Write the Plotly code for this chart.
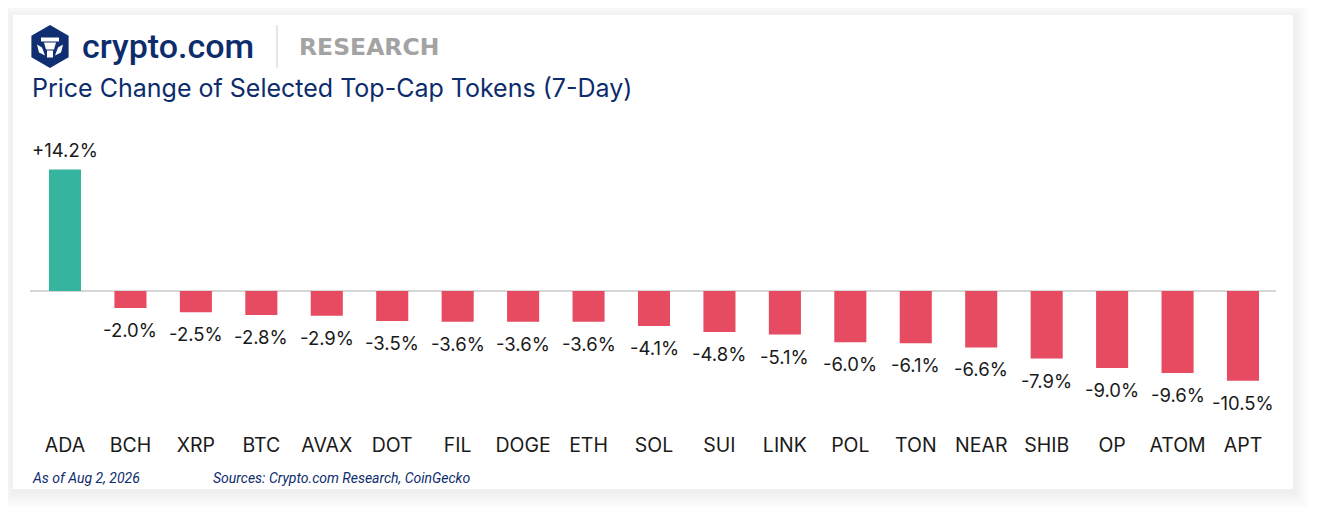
import math
import plotly.graph_objects as go

tokens = ["ADA", "BCH", "XRP", "BTC", "AVAX", "DOT", "FIL", "DOGE", "ETH", "SOL",
          "SUI", "LINK", "POL", "TON", "NEAR", "SHIB", "OP", "ATOM", "APT"]
changes = [14.2, -2.0, -2.5, -2.8, -2.9, -3.5, -3.6, -3.6, -3.6, -4.1,
           -4.8, -5.1, -6.0, -6.1, -6.6, -7.9, -9.0, -9.6, -10.5]

title_text = "Price Change of Selected Top-Cap Tokens (7-Day)"
date_note = "As of Aug 2, 2026"
source_note = "Sources: Crypto.com Research, CoinGecko"

GREEN = "#35b49f"
RED = "#e64b62"
NAVY = "#0d2c6c"

W, H = 1318, 514
OFF = 8  # page body margin offset: figure is drawn at (8, 8) in the window
ML = 30 - OFF
MR = W - (1276 - OFF)
MT = 140 - OFF
MB = H - (431 - OFF)
PW, PH = W - ML - MR, H - MT - MB


def px(x):
    return (x - OFF - ML) / PW


def py(y):
    return (H - MB - (y - OFF)) / PH


colors = [GREEN if v >= 0 else RED for v in changes]

fig = go.Figure()
fig.add_trace(go.Bar(x=tokens, y=changes, marker=dict(color=colors, line=dict(width=0)),
                     width=0.49, hoverinfo="skip"))

annotations = []
for t, v in zip(tokens, changes):
    label = f"+{v:.1f}%" if v > 0 else f"{v:.1f}%"
    annotations.append(dict(x=t, y=v, xref="x", yref="y", text=label, showarrow=False,
                            yanchor="bottom" if v > 0 else "top",
                            yshift=7 if v > 0 else -9,
                            font=dict(family="Inter", size=18.5, color="#1a1a1a")))

annotations += [
    dict(x=px(80), y=py(46), xref="paper", yref="paper", text="crypto.com", showarrow=False,
         xanchor="left", yanchor="middle",
         font=dict(family="Roboto", size=34, color=NAVY, weight=500)),
    dict(x=px(297), y=py(47), xref="paper", yref="paper", text="RESEARCH", showarrow=False,
         xanchor="left", yanchor="middle",
         font=dict(family="DejaVu Sans", size=23.5, color="#a3a3a3", weight="bold")),
    dict(x=px(30), y=py(88), xref="paper", yref="paper", text=title_text, showarrow=False,
         xanchor="left", yanchor="middle",
         font=dict(family="Inter", size=25, color=NAVY)),
    dict(x=px(30), y=py(478), xref="paper", yref="paper", text=f"<i>{date_note}</i>",
         showarrow=False, xanchor="left", yanchor="middle",
         font=dict(family="Roboto", size=14, color=NAVY)),
    dict(x=px(211), y=py(478), xref="paper", yref="paper", text=f"<i>{source_note}</i>",
         showarrow=False, xanchor="left", yanchor="middle",
         font=dict(family="Roboto", size=14, color=NAVY)),
]

shapes = []
cx0, cy0, cx1, cy1 = 13, 15, 1293, 489
for i in range(16, 0, -1):
    shapes.append(dict(type="rect", xref="paper", yref="paper", layer="below",
                       x0=px(cx0 - i + 1), x1=px(cx1 + i), y0=py(cy1 + i + 3), y1=py(cy0 - i + 3),
                       line=dict(width=0), fillcolor="rgba(0,0,0,0.005)"))
shapes.append(dict(type="rect", xref="paper", yref="paper", layer="below",
                   x0=px(cx0), x1=px(cx1), y0=py(cy1), y1=py(cy0),
                   line=dict(width=0), fillcolor="white"))

shapes.append(dict(type="line", xref="paper", yref="paper", x0=px(277), x1=px(277),
                   y0=py(25), y1=py(68), line=dict(color="#d6d6d6", width=1.2)))

lcx, lcy, R = 50, 46.5, 21.5
hex_pts = []
for k in range(6):
    a = math.radians(90 + 60 * k)
    hex_pts.append((lcx + R * math.cos(a), lcy - R * math.sin(a)))


def path(pts):
    return "M " + " L ".join(f"{px(a):.5f},{py(b):.5f}" for a, b in pts) + " Z"


shapes.append(dict(type="path", xref="paper", yref="paper", path=path(hex_pts),
                   fillcolor="#102f73", line=dict(width=0)))
emblem = [
    [(lcx - 9, lcy - 9), (lcx + 9, lcy - 9), (lcx + 9, lcy - 5), (lcx - 9, lcy - 5)],
    [(lcx - 6, lcy - 4), (lcx + 6, lcy - 4), (lcx + 4, lcy + 3), (lcx - 4, lcy + 3)],
    [(lcx - 3, lcy + 4), (lcx + 3, lcy + 4), (lcx + 3, lcy + 11), (lcx - 3, lcy + 11)],
    [(lcx - 13, lcy - 2), (lcx - 8, lcy + 1), (lcx - 5, lcy + 9), (lcx - 11, lcy + 6)],
    [(lcx + 13, lcy - 2), (lcx + 8, lcy + 1), (lcx + 5, lcy + 9), (lcx + 11, lcy + 6)],
]
for e in emblem:
    shapes.append(dict(type="path", xref="paper", yref="paper", path=path(e),
                       fillcolor="white", line=dict(width=0)))

ppu = 8.55
zero_y = 291
y_top = (zero_y - 140) / ppu
y_bot = -(431 - zero_y) / ppu

fig.update_layout(
    width=W, height=H,
    margin=dict(l=ML, r=MR, t=MT, b=MB, pad=0),
    paper_bgcolor="white",
    plot_bgcolor="rgba(0,0,0,0)",
    showlegend=False,
    bargap=0.51,
    xaxis=dict(showgrid=False, showline=False, ticks="", zeroline=False,
               tickfont=dict(family="Inter", size=19.5, color="#1a1a1a"),
               fixedrange=True),
    yaxis=dict(range=[y_bot, y_top], showgrid=False, showticklabels=False, ticks="",
               zeroline=True, zerolinecolor="#d6d6d6", zerolinewidth=2, fixedrange=True),
    annotations=annotations,
    shapes=shapes,
)

fig.write_html("out.html", config={"displayModeBar": False})
